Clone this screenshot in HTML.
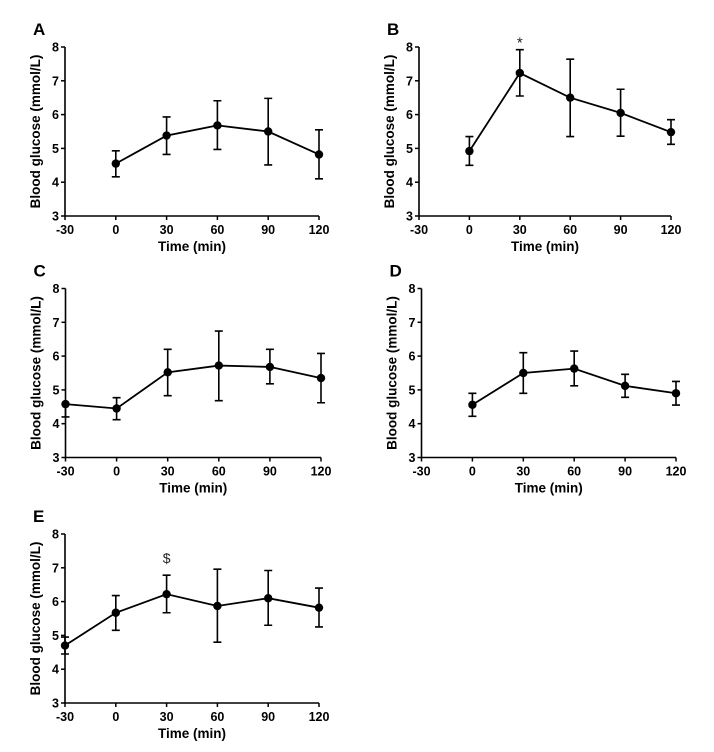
<!DOCTYPE html>
<html><head><meta charset="utf-8"><style>
body{margin:0;background:#fff;}
svg{display:block;font-family:"Liberation Sans",Arial,sans-serif;}
</style></head><body>
<svg id="fig" width="714" height="752" viewBox="0 0 714 752"></svg>
<script>
const timesFive = [0,30,60,90,120];
const timesSix = [-30,0,30,60,90,120];
const tickLabelsX = [-30,0,30,60,90,120];
const tickLabelsY = [3,4,5,6,7,8];
const meanA = [4.55,5.38,5.68,5.5,4.82];
const upA = [4.93,5.93,6.41,6.48,5.55];
const loA = [4.16,4.82,4.97,4.51,4.1];
const meanB = [4.92,7.23,6.5,6.05,5.48];
const upB = [5.35,7.92,7.64,6.75,5.85];
const loB = [4.5,6.55,5.35,5.36,5.12];
const meanC = [4.58,4.45,5.52,5.72,5.68,5.35];
const upC = [4.6,4.77,6.2,6.74,6.2,6.08];
const loC = [4.2,4.12,4.83,4.68,5.18,4.62];
const meanD = [4.56,5.5,5.63,5.12,4.9];
const upD = [4.9,6.1,6.15,5.46,5.25];
const loD = [4.22,4.9,5.12,4.78,4.55];
const meanE = [4.7,5.67,6.22,5.87,6.1,5.82];
const upE = [4.95,6.18,6.78,6.96,6.92,6.4];
const loE = [4.45,5.15,5.67,4.8,5.3,5.25];

const NS="http://www.w3.org/2000/svg";
const svg=document.getElementById('fig');
function mk(tag,attrs,parent){const e=document.createElementNS(NS,tag);for(const k in attrs)e.setAttribute(k,attrs[k]);(parent||svg).appendChild(e);return e;}

function panel(letter,x0,x1,yTop,yBot,times,mean,up,lo,mark,markIdx){
  const g=mk('g',{});
  
  
  const sx=v=>x0+(v+30)/150*(x1-x0);
  const sy=v=>yBot-(v-3)/5*(yBot-yTop);
  const lab=mk('text',{x:x0-32,y:yTop-12,'font-size':17,'font-weight':'bold'},g);lab.textContent=letter;
  
  
  const ax=mk('path',{d:`M${x0},${yTop}V${yBot}H${x1}`,stroke:'#000','stroke-width':1.6,fill:'none'},g);
  
  
  tickLabelsY.forEach(v=>{
    mk('line',{x1:x0-4,x2:x0,y1:sy(v),y2:sy(v),stroke:'#000','stroke-width':1.5},g);
    const t=mk('text',{x:x0-6,y:sy(v)+4.5,'font-size':12.5,'font-weight':'bold','text-anchor':'end'},g);t.textContent=v;
    
    
  });
  tickLabelsX.forEach(v=>{
    mk('line',{x1:sx(v),x2:sx(v),y1:yBot,y2:yBot+4,stroke:'#000','stroke-width':1.5},g);
    const t=mk('text',{x:sx(v),y:yBot+18,'font-size':12.5,'font-weight':'bold','text-anchor':'middle'},g);t.textContent=v;
    
    
  });
  const xt=mk('text',{x:(x0+x1)/2,y:yBot+35,'font-size':13.5,'font-weight':'bold','text-anchor':'middle'},g);xt.textContent='Time (min)';
  
  
  const yc=(yTop+yBot)/2;
  const yt=mk('text',{x:x0-25,y:yc,'font-size':13.5,'font-weight':'bold','text-anchor':'middle',transform:`rotate(-90 ${x0-25} ${yc})`},g);yt.textContent='Blood glucose (mmol/L)';
  
  
  const pl=mk('polyline',{points:times.map((t,i)=>sx(t)+','+sy(mean[i])).join(' '),fill:'none',stroke:'#000','stroke-width':1.8},g);
  
  
  times.forEach((t,i)=>{
    const x=sx(t);
    const eb=mk('path',{d:`M${x},${sy(up[i])}V${sy(lo[i])}M${x-4},${sy(up[i])}H${x+4}M${x-4},${sy(lo[i])}H${x+4}`,stroke:'#000','stroke-width':1.6,fill:'none'},g);
    
    
    const c=mk('circle',{cx:x,cy:sy(mean[i]),r:4.2,fill:'#000'},g);
    
    
  });
  if(mark){
    const x=sx(times[markIdx]);
    const m=mk('text',{x:x,y:sy(up[markIdx])-(mark==='*'?2:12),'font-size':mark==='*'?15:14,'text-anchor':'middle',fill:'#222'},g);m.textContent=mark;
    
    
  }
}
panel('A',65,319,47,216,timesFive,meanA,upA,loA);
panel('B',419,671,47,216,timesFive,meanB,upB,loB,'*',1);
panel('C',65.5,321,288.5,457.5,timesSix,meanC,upC,loC);
panel('D',421.5,676,288.5,457.5,timesFive,meanD,upD,loD);
panel('E',65,319,534,703,timesSix,meanE,upE,loE,'$',2);
</script>
</body></html>
